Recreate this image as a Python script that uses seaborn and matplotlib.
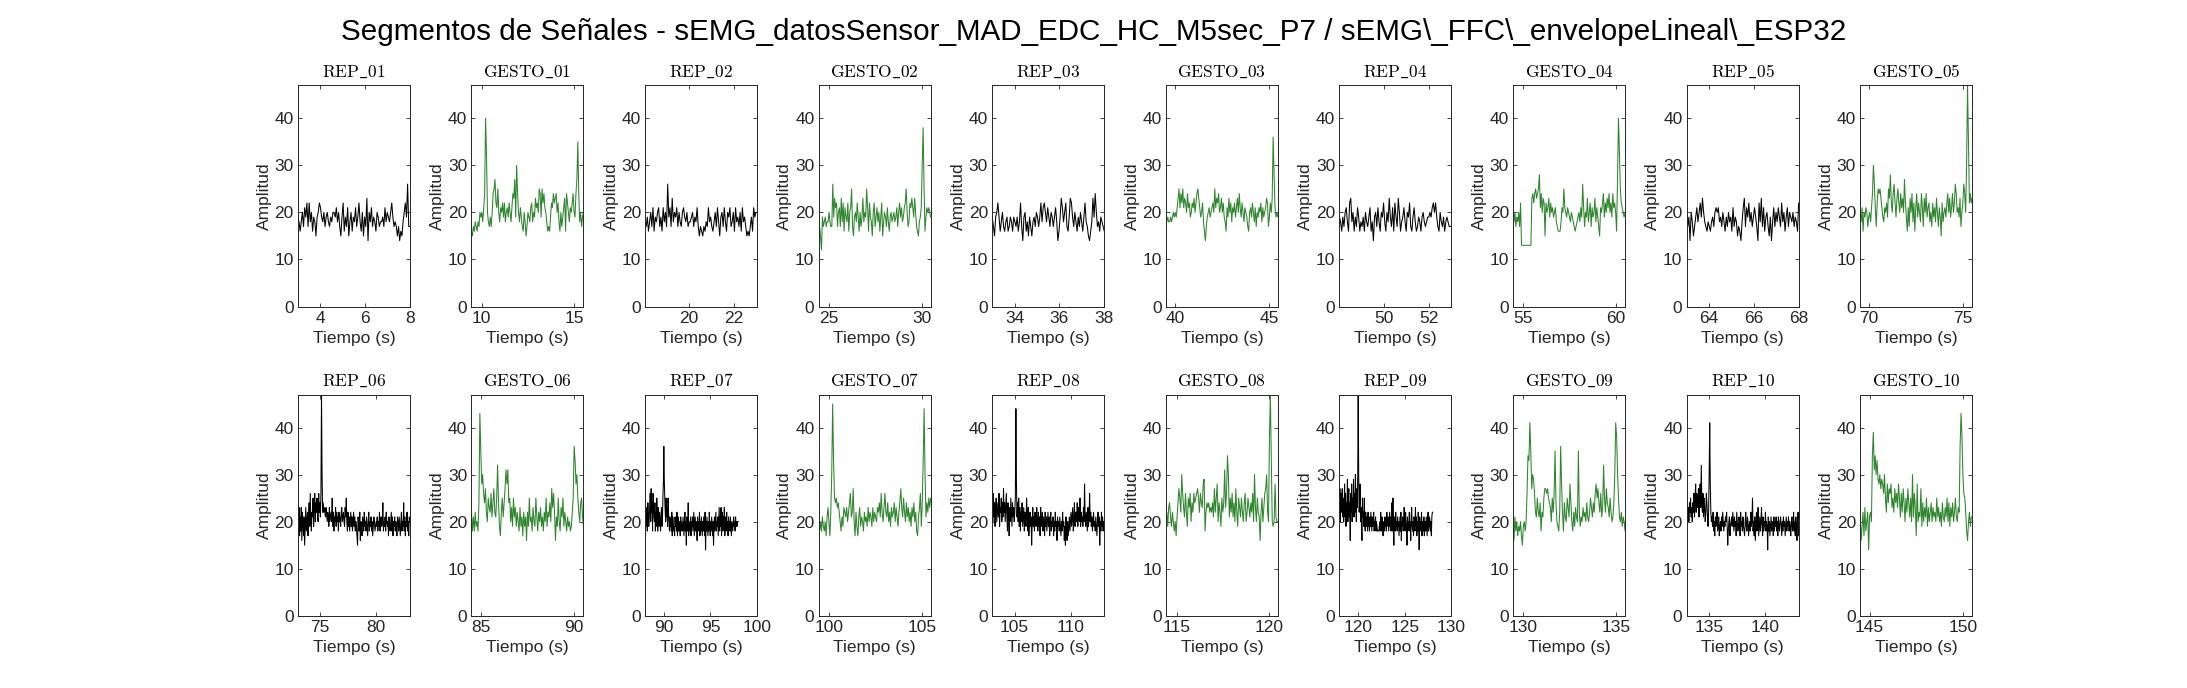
import numpy as np
import pandas as pd
import matplotlib
matplotlib.use("Agg")
import matplotlib.pyplot as plt
import seaborn as sns

# ---- datos (amplitud por muestra) ----
rep_01 = [19, 18, 16, 18, 20, 17, 21, 19, 22, 17, 22, 18, 20, 16, 19, 18, 15, 19, 20, 22,
          21, 19, 18, 20, 17, 19, 20, 18, 17, 19, 18, 20, 20, 19, 21, 18, 20, 17, 15, 19,
          22, 16, 19, 17, 21, 15, 18, 20, 16, 19, 18, 21, 17, 19, 22, 18, 16, 20, 15, 19,
          17, 23, 14, 20, 18, 21, 17, 19, 18, 16, 20, 19, 17, 18, 18, 19, 17, 21, 18, 20,
          19, 18, 20, 22, 19, 17, 18, 17, 15, 17, 14, 16, 15, 18, 20, 22, 19, 26, 17, 17]
gesto_01 = [16, 15, 17, 16, 18, 17, 16, 18, 17, 20, 19, 20, 18, 21, 24, 40, 32, 20, 18, 17,
            19, 17, 20, 24, 25, 27, 22, 21, 25, 20, 18, 21, 20, 22, 19, 22, 18, 20, 21, 19,
            22, 20, 18, 21, 24, 23, 27, 19, 30, 24, 20, 18, 21, 19, 17, 16, 20, 18, 15, 17,
            20, 19, 18, 21, 22, 18, 20, 19, 23, 21, 22, 20, 25, 24, 19, 25, 22, 24, 21, 20,
            18, 16, 17, 16, 19, 22, 21, 24, 22, 23, 24, 20, 22, 18, 16, 20, 17, 19, 21, 23,
            16, 24, 22, 20, 18, 21, 20, 22, 24, 20, 19, 24, 27, 35, 24, 18, 20, 17, 19, 20]
rep_02 = [18, 17, 19, 16, 18, 20, 17, 21, 16, 19, 18, 20, 21, 17, 19, 16, 21, 18, 20, 17,
          26, 19, 21, 17, 23, 18, 20, 19, 21, 17, 20, 18, 17, 20, 21, 19, 18, 20, 17, 18,
          18, 19, 20, 17, 19, 18, 21, 17, 15, 17, 16, 15, 17, 16, 18, 17, 21, 18, 19, 17,
          16, 18, 20, 17, 21, 18, 15, 19, 20, 17, 21, 18, 16, 20, 19, 21, 17, 18, 20, 16,
          21, 18, 19, 17, 20, 16, 21, 18, 19, 17, 15, 16, 15, 17, 19, 16, 21, 19, 20, 20]
gesto_02 = [16, 17, 15, 12, 19, 17, 18, 19, 17, 18, 18, 20, 18, 17, 17, 26, 19, 23, 21, 22,
            17, 20, 21, 17, 23, 18, 22, 16, 21, 19, 18, 22, 16, 20, 21, 25, 17, 15, 19, 20,
            18, 22, 19, 16, 20, 17, 19, 23, 18, 20, 19, 25, 21, 16, 22, 19, 18, 15, 20, 22,
            17, 19, 21, 18, 20, 16, 19, 22, 15, 18, 20, 19, 17, 21, 18, 16, 19, 20, 18, 19,
            20, 18, 19, 21, 17, 20, 22, 19, 21, 18, 19, 21, 22, 25, 20, 17, 18, 22, 21, 23,
            21, 19, 23, 20, 17, 16, 15, 18, 19, 21, 30, 38, 25, 16, 19, 21, 20, 21, 20, 19]
rep_03 = [19, 17, 15, 19, 20, 22, 19, 16, 18, 20, 17, 16, 18, 19, 16, 17, 19, 18, 16, 19,
          18, 17, 19, 16, 18, 22, 17, 14, 19, 20, 16, 18, 15, 19, 17, 15, 18, 19, 17, 20,
          19, 17, 19, 22, 18, 21, 22, 20, 18, 21, 19, 17, 20, 19, 17, 19, 21, 18, 14, 16,
          19, 23, 21, 18, 20, 22, 17, 16, 19, 23, 22, 19, 17, 20, 18, 16, 19, 17, 20, 18,
          16, 19, 22, 18, 17, 15, 14, 16, 18, 23, 19, 24, 20, 17, 18, 16, 19, 18, 17, 16]
gesto_03 = [18, 18, 19, 18, 18, 19, 18, 19, 20, 19, 20, 19, 21, 23, 25, 21, 24, 22, 25, 21,
            23, 22, 20, 24, 21, 22, 19, 20, 22, 21, 23, 20, 22, 24, 25, 23, 21, 19, 20, 22,
            18, 16, 14, 17, 19, 20, 21, 19, 20, 21, 22, 20, 25, 21, 23, 22, 24, 20, 21, 23,
            20, 22, 19, 18, 16, 21, 19, 23, 20, 22, 18, 21, 20, 22, 19, 21, 23, 20, 24, 21,
            19, 22, 20, 18, 21, 20, 19, 17, 16, 20, 21, 19, 22, 20, 18, 21, 17, 20, 19, 21,
            20, 22, 18, 21, 19, 20, 21, 23, 22, 17, 19, 22, 20, 23, 36, 28, 21, 19, 20, 19]
rep_04 = [19, 18, 16, 19, 17, 20, 21, 18, 16, 22, 23, 18, 20, 16, 19, 17, 21, 19, 16, 18,
          17, 19, 16, 20, 18, 17, 19, 21, 16, 18, 14, 19, 20, 17, 21, 18, 16, 20, 19, 22,
          18, 16, 20, 18, 23, 19, 17, 21, 16, 22, 19, 17, 23, 20, 16, 18, 19, 21, 18, 16,
          20, 19, 22, 17, 16, 19, 21, 18, 16, 17, 19, 18, 16, 19, 20, 18, 17, 18, 19, 19,
          20, 19, 21, 22, 20, 22, 19, 17, 16, 20, 18, 17, 19, 16, 18, 19, 18, 17, 17, 17]
gesto_04 = [22, 18, 20, 17, 19, 18, 20, 17, 22, 13, 13, 13, 13, 13, 13, 13, 13, 13, 13, 13,
            23, 24, 22, 24, 25, 23, 24, 25, 28, 21, 24, 20, 23, 22, 15, 22, 20, 21, 23, 19,
            22, 20, 21, 19, 20, 21, 18, 17, 16, 16, 16, 18, 21, 20, 25, 21, 20, 19, 21, 20,
            19, 18, 20, 19, 18, 17, 16, 17, 18, 19, 20, 18, 21, 19, 26, 21, 17, 20, 19, 23,
            18, 20, 22, 17, 21, 19, 20, 23, 18, 21, 19, 17, 15, 21, 20, 22, 24, 19, 22, 20,
            23, 21, 24, 20, 22, 19, 24, 21, 22, 20, 16, 27, 40, 33, 25, 22, 21, 20, 19, 20]
rep_05 = [21, 17, 19, 14, 20, 18, 15, 17, 19, 21, 18, 20, 22, 19, 23, 20, 18, 17, 16, 18,
          17, 16, 18, 19, 17, 20, 21, 20, 21, 18, 19, 17, 20, 18, 16, 19, 17, 20, 18, 19,
          16, 21, 17, 19, 18, 15, 17, 16, 14, 18, 21, 23, 17, 21, 19, 22, 18, 20, 17, 19,
          21, 19, 17, 14, 22, 18, 23, 17, 21, 16, 19, 20, 17, 15, 19, 14, 18, 21, 17, 20,
          18, 21, 19, 17, 22, 18, 20, 16, 19, 21, 17, 20, 19, 18, 20, 17, 19, 18, 16, 22]
gesto_05 = [20, 18, 21, 16, 20, 19, 21, 20, 17, 19, 20, 18, 21, 24, 30, 26, 21, 17, 22, 25,
            24, 25, 23, 21, 19, 18, 21, 20, 22, 19, 25, 23, 28, 22, 20, 24, 26, 22, 19, 23,
            25, 22, 20, 24, 21, 23, 20, 27, 22, 19, 16, 21, 17, 23, 20, 24, 18, 22, 16, 21,
            24, 19, 22, 20, 18, 24, 21, 17, 23, 20, 24, 19, 21, 22, 18, 20, 17, 22, 19, 21,
            18, 23, 20, 17, 21, 19, 15, 22, 18, 20, 21, 19, 22, 24, 20, 23, 19, 21, 24, 20,
            22, 26, 24, 20, 21, 19, 23, 17, 20, 22, 26, 24, 20, 30, 47, 35, 22, 24, 22, 23]
rep_06 = [24, 19, 23, 17, 21, 18, 23, 16, 22, 20, 17, 21, 15, 19, 23, 18, 20, 22, 17, 21,
          24, 19, 26, 20, 18, 22, 21, 25, 19, 23, 26, 20, 24, 22, 25, 21, 20, 26, 22, 24,
          21, 26, 47, 30, 22, 24, 22, 23, 22, 21, 23, 22, 20, 22, 21, 19, 23, 20, 21, 22,
          20, 25, 19, 22, 18, 21, 20, 23, 19, 22, 20, 21, 18, 22, 20, 21, 19, 22, 23, 20,
          21, 22, 20, 19, 23, 21, 25, 20, 18, 22, 19, 21, 18, 20, 22, 19, 21, 18, 20, 22,
          19, 21, 18, 20, 19, 17, 15, 21, 19, 18, 22, 16, 20, 19, 17, 21, 20, 18, 22, 19,
          20, 18, 21, 19, 17, 20, 22, 18, 20, 19, 21, 18, 20, 17, 19, 21, 20, 18, 19, 20,
          19, 21, 18, 20, 19, 22, 18, 20, 21, 19, 20, 24, 18, 20, 19, 21, 18, 22, 20, 19,
          20, 17, 21, 19, 18, 20, 22, 18, 21, 17, 20, 19, 21, 18, 20, 19, 17, 21, 20, 18,
          21, 19, 17, 20, 22, 18, 20, 19, 24, 18, 21, 17, 20, 19, 22, 18, 20, 17, 21, 20]
gesto_06 = [22, 18, 21, 18, 22, 19, 20, 18, 24, 43, 35, 28, 30, 26, 24, 27, 22, 20, 25, 23,
            22, 26, 21, 24, 27, 22, 21, 25, 32, 24, 19, 17, 22, 25, 21, 24, 27, 31, 28, 31,
            24, 25, 20, 23, 19, 25, 21, 23, 19, 22, 20, 18, 23, 19, 21, 17, 22, 19, 21, 16,
            22, 19, 25, 20, 21, 18, 23, 20, 19, 25, 21, 18, 22, 20, 23, 19, 21, 18, 22, 20,
            25, 19, 22, 21, 24, 20, 27, 23, 26, 22, 16, 21, 19, 25, 20, 18, 23, 21, 25, 19,
            22, 20, 18, 21, 19, 20, 18, 19, 22, 25, 36, 33, 28, 30, 25, 22, 20, 24, 25, 21, 19]
rep_07 = [25, 17, 23, 19, 22, 18, 24, 20, 19, 21, 23, 26, 20, 27, 22, 24, 18, 26, 23, 21,
          20, 24, 18, 22, 19, 25, 21, 18, 23, 20, 19, 22, 20, 18, 21, 23, 19, 20, 25, 28,
          36, 29, 25, 22, 20, 25, 21, 23, 19, 25, 22, 20, 18, 21, 19, 20, 18, 22, 17, 21,
          20, 18, 19, 17, 21, 19, 20, 18, 22, 17, 19, 21, 18, 20, 19, 17, 21, 18, 20, 19,
          18, 21, 19, 17, 20, 22, 18, 20, 15, 21, 19, 18, 24, 17, 20, 19, 18, 21, 17, 20,
          19, 21, 18, 20, 22, 17, 19, 21, 18, 20, 19, 16, 21, 18, 20, 19, 22, 17, 20, 18,
          21, 19, 17, 20, 18, 21, 19, 17, 22, 14, 20, 18, 21, 19, 17, 20, 18, 22, 19, 17,
          20, 18, 21, 19, 17, 20, 15, 19, 21, 18, 20, 22, 18, 20, 19, 21, 17, 20, 23, 18,
          21, 19, 23, 17, 20, 22, 18, 21, 19, 23, 17, 20, 21, 18, 22, 19, 20, 17, 21, 19,
          20, 18, 21, 19, 17, 20, 19, 18, 20, 21, 19, 20, 18, 21, 19, 20, 19, 20, 20, 20]
gesto_07 = [19, 18, 20, 18, 21, 19, 18, 20, 17, 21, 23, 20, 17, 22, 30, 45, 33, 25, 24, 25,
            23, 24, 22, 20, 18, 21, 19, 23, 22, 21, 23, 20, 22, 24, 26, 21, 22, 27, 20, 17,
            22, 19, 17, 21, 23, 19, 21, 20, 18, 22, 20, 21, 19, 23, 20, 22, 21, 19, 23, 20,
            22, 21, 20, 23, 22, 24, 21, 26, 22, 20, 23, 26, 22, 21, 24, 20, 22, 19, 23, 21,
            22, 24, 20, 23, 21, 19, 22, 24, 27, 23, 21, 25, 22, 20, 24, 21, 23, 20, 22, 19,
            23, 21, 24, 20, 22, 18, 17, 21, 23, 26, 19, 24, 33, 44, 30, 21, 24, 22, 25, 23, 25]
rep_08 = [22, 20, 26, 21, 24, 19, 23, 25, 20, 22, 24, 21, 26, 19, 23, 22, 25, 20, 24, 21,
          27, 22, 24, 20, 23, 26, 21, 18, 24, 22, 17, 23, 20, 25, 22, 19, 24, 21, 23, 20,
          22, 25, 44, 28, 21, 24, 20, 25, 19, 23, 18, 22, 20, 24, 19, 21, 23, 18, 22, 20,
          19, 25, 21, 18, 23, 17, 20, 22, 19, 21, 15, 20, 23, 19, 21, 18, 22, 20, 19, 23,
          20, 18, 22, 19, 21, 17, 23, 20, 19, 22, 18, 21, 20, 17, 22, 19, 21, 18, 20, 22,
          19, 21, 17, 20, 22, 18, 20, 19, 21, 17, 20, 18, 22, 19, 20, 16, 21, 19, 20, 18,
          21, 19, 17, 20, 18, 22, 19, 20, 16, 19, 15, 21, 18, 16, 20, 17, 19, 21, 18, 20,
          22, 19, 21, 23, 18, 20, 24, 19, 21, 22, 20, 24, 19, 23, 21, 20, 25, 19, 22, 20,
          21, 19, 23, 20, 28, 21, 19, 22, 20, 18, 23, 19, 21, 26, 20, 22, 19, 21, 18, 20,
          22, 19, 20, 18, 21, 19, 17, 20, 22, 19, 21, 15, 20, 18, 22, 19, 21, 18, 20, 19]
gesto_08 = [20, 22, 19, 23, 24, 21, 19, 22, 20, 18, 20, 17, 21, 24, 27, 25, 22, 30, 26, 23,
            21, 26, 22, 19, 25, 23, 26, 20, 24, 22, 26, 24, 25, 26, 27, 25, 22, 26, 24, 23,
            28, 29, 18, 22, 24, 23, 24, 22, 23, 22, 24, 21, 27, 22, 25, 28, 20, 24, 22, 19,
            25, 22, 24, 31, 23, 26, 34, 30, 21, 25, 22, 26, 21, 24, 20, 27, 22, 19, 25, 23,
            21, 25, 22, 20, 24, 26, 20, 22, 25, 23, 21, 24, 22, 26, 20, 30, 23, 20, 25, 22,
            21, 16, 22, 25, 20, 23, 26, 27, 30, 22, 20, 38, 47, 33, 20, 19, 20, 28, 21, 20, 20]
rep_09 = [25, 27, 20, 26, 22, 24, 27, 21, 25, 20, 23, 28, 21, 26, 19, 24, 22, 29, 20, 25,
          27, 21, 24, 16, 26, 22, 28, 20, 25, 23, 29, 21, 26, 22, 30, 24, 20, 27, 23, 30,
          47, 30, 22, 24, 28, 20, 23, 19, 16, 25, 21, 22, 19, 25, 20, 18, 22, 19, 21, 20,
          18, 22, 19, 20, 18, 21, 19, 22, 20, 18, 21, 19, 20, 22, 18, 20, 19, 21, 18, 20,
          19, 18, 18, 18, 18, 19, 20, 18, 22, 19, 18, 21, 20, 17, 19, 20, 18, 21, 19, 20,
          18, 22, 19, 20, 21, 18, 20, 22, 19, 21, 18, 20, 24, 18, 25, 19, 15, 21, 20, 18,
          22, 19, 20, 18, 21, 19, 20, 17, 19, 21, 18, 22, 16, 20, 19, 21, 18, 20, 23, 19,
          18, 22, 20, 19, 15, 21, 18, 20, 19, 22, 18, 20, 16, 21, 23, 19, 18, 20, 17, 21,
          20, 18, 23, 19, 21, 17, 20, 18, 22, 19, 14, 21, 18, 20, 19, 22, 17, 20, 19, 18,
          21, 17, 19, 20, 18, 21, 19, 17, 20, 22, 18, 19, 21, 20, 18, 20, 17, 21, 22, 22]
gesto_09 = [20, 16, 21, 18, 20, 17, 19, 18, 20, 17, 15, 19, 20, 18, 20, 26, 34, 33, 41, 35,
            27, 30, 29, 26, 22, 21, 25, 22, 21, 24, 18, 22, 21, 25, 27, 27, 26, 27, 25, 24,
            23, 20, 25, 22, 26, 35, 24, 20, 19, 18, 22, 36, 28, 22, 18, 24, 21, 20, 25, 23,
            21, 28, 24, 20, 18, 22, 19, 23, 21, 20, 35, 22, 19, 21, 20, 23, 21, 22, 20, 24,
            21, 20, 22, 25, 23, 21, 24, 22, 26, 28, 25, 27, 24, 22, 26, 21, 23, 32, 25, 22,
            27, 24, 23, 21, 25, 22, 20, 21, 24, 30, 41, 38, 30, 25, 21, 20, 22, 19, 21, 20, 18]
rep_10 = [26, 22, 21, 23, 20, 24, 22, 25, 21, 23, 20, 24, 22, 26, 21, 25, 28, 22, 26, 23,
          24, 27, 21, 26, 28, 23, 32, 24, 22, 26, 21, 25, 23, 20, 22, 26, 24, 21, 19, 22,
          30, 41, 28, 22, 20, 21, 19, 22, 18, 20, 17, 21, 19, 20, 22, 18, 19, 21, 17, 19,
          20, 18, 21, 19, 22, 20, 18, 20, 19, 21, 20, 22, 19, 15, 18, 20, 21, 17, 19, 20,
          21, 19, 22, 20, 18, 21, 19, 20, 17, 22, 20, 18, 19, 21, 20, 17, 22, 19, 20, 18,
          21, 19, 18, 17, 20, 22, 19, 18, 21, 20, 17, 19, 20, 18, 22, 19, 20, 25, 18, 20,
          17, 21, 16, 19, 22, 18, 20, 23, 17, 19, 21, 18, 20, 23, 19, 17, 21, 18, 20, 19,
          22, 18, 20, 19, 14, 21, 18, 20, 17, 19, 21, 18, 20, 19, 17, 21, 18, 20, 19, 21,
          18, 20, 17, 21, 19, 18, 20, 21, 19, 17, 20, 18, 21, 19, 20, 17, 19, 21, 18, 20,
          19, 21, 18, 20, 19, 17, 20, 21, 18, 19, 22, 18, 20, 17, 21, 19, 16, 20, 22, 17]
gesto_10 = [21, 16, 19, 22, 17, 23, 18, 20, 22, 14, 21, 22, 20, 34, 39, 31, 34, 30, 33, 29,
            28, 30, 27, 29, 28, 26, 30, 25, 22, 28, 24, 27, 26, 28, 23, 25, 22, 27, 24, 26,
            23, 28, 25, 21, 26, 22, 27, 24, 20, 25, 22, 27, 24, 21, 25, 20, 30, 21, 26, 23,
            17, 28, 20, 22, 21, 27, 19, 24, 20, 23, 21, 25, 19, 23, 20, 22, 24, 20, 23, 21,
            22, 20, 25, 21, 23, 20, 22, 19, 24, 21, 20, 23, 21, 25, 20, 24, 19, 23, 21, 24,
            20, 22, 25, 21, 20, 23, 22, 36, 43, 38, 30, 26, 25, 22, 18, 16, 20, 22, 19, 21, 21]

names = ["REP_01", "GESTO_01", "REP_02", "GESTO_02", "REP_03", "GESTO_03", "REP_04", "GESTO_04",
         "REP_05", "GESTO_05", "REP_06", "GESTO_06", "REP_07", "GESTO_07", "REP_08", "GESTO_08",
         "REP_09", "GESTO_09", "REP_10", "GESTO_10"]
series = [rep_01, gesto_01, rep_02, gesto_02, rep_03, gesto_03, rep_04, gesto_04, rep_05, gesto_05,
          rep_06, gesto_06, rep_07, gesto_07, rep_08, gesto_08, rep_09, gesto_09, rep_10, gesto_10]
# inicio / fin de cada segmento (s)
t_start = [3.0, 9.45, 18.03, 24.46, 33.0, 39.52, 48.02, 54.48, 63.0, 69.52,
           73.0, 84.48, 88.0, 99.46, 103.0, 114.42, 118.0, 129.48, 133.0, 144.5]
t_end = [8.0, 15.5, 23.03, 30.48, 38.0, 45.48, 53.02, 60.48, 68.0, 75.5,
         83.0, 90.52, 98.0, 105.48, 113.0, 120.49, 128.0, 135.48, 143.0, 150.5]
x_max = [8.0, 15.5, 23.03, 30.48, 38.0, 45.48, 53.02, 60.48, 68.0, 75.5,
         83.0, 90.52, 100.0, 105.48, 113.0, 120.49, 130.0, 135.48, 143.0, 150.5]
x_ticks = [[4, 6, 8], [10, 15], [20, 22], [25, 30], [34, 36, 38], [40, 45], [50, 52], [55, 60],
           [64, 66, 68], [70, 75], [75, 80], [85, 90], [90, 95, 100], [100, 105], [105, 110],
           [115, 120], [120, 125, 130], [130, 135], [135, 140], [145, 150]]

titulo = ("Segmentos de Señales - sEMG_datosSensor_MAD_EDC_HC_M5sec_P7 / "
          "sEMG\\_FFC\\_envelopeLineal\\_ESP32")

sns.set_style("ticks")
plt.rcParams['font.family'] = ['Liberation Sans', 'DejaVu Sans']
plt.rcParams['mathtext.fontset'] = 'cm'

VERDE = '#2e852e'
GRIS = '#262626'

fig, axes = plt.subplots(2, 10, figsize=(21.87, 6.88), dpi=100)
fig.subplots_adjust(left=0.1362, right=0.9018, top=0.876, bottom=0.105, wspace=0.55, hspace=0.398)

for ax, name, vals, t0, t1, xm, xt in zip(axes.flat, names, series, t_start, t_end, x_max, x_ticks):
    df = pd.DataFrame({'t': np.linspace(t0, t1, len(vals)), 'amp': vals})
    color = VERDE if name.startswith('GESTO') else 'black'
    sns.lineplot(data=df, x='t', y='amp', ax=ax, color=color, linewidth=0.75, estimator=None)
    ax.set_xlim(t0, xm)
    ax.set_ylim(0, 47)
    ax.set_xticks(xt)
    ax.set_yticks([0, 10, 20, 30, 40])
    ax.set_title(r'$\mathrm{' + name.replace('_', r'\_') + '}$', fontsize=12.5, color='black', pad=6)
    ax.set_xlabel('Tiempo (s)', fontsize=12.5, color=GRIS, labelpad=4)
    ax.set_ylabel('Amplitud', fontsize=12.5, color=GRIS, labelpad=2)
    ax.tick_params(direction='in', top=True, right=True, length=3, width=0.6,
                   labelsize=12.5, colors=GRIS, pad=3)
    for s in ax.spines.values():
        s.set_visible(True)
        s.set_linewidth(0.7)
        s.set_color(GRIS)

fig.text(0.5, 1 - 39.5 / 688, titulo, fontsize=21.3, ha='center', va='baseline', color='black')

fig.savefig('out.png', dpi=100)
